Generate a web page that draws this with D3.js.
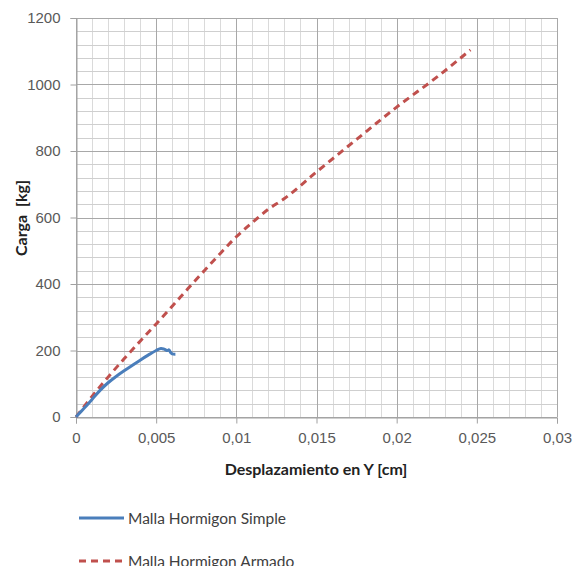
<!DOCTYPE html>
<html>
<head>
<meta charset="utf-8">
<script src="https://cdn.jsdelivr.net/npm/d3@7"></script>
<style>
  body { margin: 0; background: #fff; }
  svg { display: block; font-family: Lato, "Open Sans", sans-serif; }
</style>
</head>
<body>
<svg id="chart" width="579" height="566"></svg>
<script>
// data
var simpleX = [0, 0.0005, 0.001, 0.0015, 0.002, 0.0025, 0.003, 0.0035, 0.004, 0.0045, 0.005, 0.0053, 0.0055, 0.0057, 0.0058, 0.0059, 0.006, 0.0062];
var simpleY = [0, 26, 53, 80, 103, 122, 139, 155, 171, 186, 200, 206, 204, 200, 202, 194, 190, 189];
var armadoX = [0, 0.001, 0.002, 0.003, 0.004, 0.005, 0.006, 0.007, 0.008, 0.009, 0.010, 0.011, 0.012, 0.013, 0.015, 0.0175, 0.020, 0.0225, 0.0246];
var armadoY = [0, 62, 120, 175, 228, 280, 333, 387, 440, 492, 542, 585, 625, 657, 737, 835, 932, 1022, 1104];
var xTicks = [0, 0.005, 0.01, 0.015, 0.02, 0.025, 0.03];
var yTicks = [0, 200, 400, 600, 800, 1000, 1200];
var seriesNames = ["Malla Hormigon Simple", "Malla Hormigon Armado"];

var svg = d3.select("#chart");
var pL = 76, pR = 557, pT = 18, pB = 417;

var x = d3.scaleLinear().domain([0, 0.03]).range([pL, pR]);
var y = d3.scaleLinear().domain([0, 1200]).range([pB, pT]);

var g = svg.append("g");
var px = function(v){ return Math.round(v) + 0.5; };

// minor grid
g.selectAll(".vminor").data(d3.range(0, 31).map(function(i){ return i * 0.001; })).enter().append("line")
  .attr("x1", function(d){ return px(x(d)); })
  .attr("x2", function(d){ return px(x(d)); })
  .attr("y1", pT).attr("y2", pB)
  .attr("stroke", "#dadada").attr("stroke-width", 1);
g.selectAll(".hminor").data(d3.range(0, 1201, 40)).enter().append("line")
  .attr("y1", function(d){ return px(y(d)); })
  .attr("y2", function(d){ return px(y(d)); })
  .attr("x1", pL).attr("x2", pR)
  .attr("stroke", "#cfcfcf").attr("stroke-width", 1);

// major grid
g.selectAll(".vmajor").data(xTicks).enter().append("line")
  .attr("x1", function(d){ return px(x(d)); })
  .attr("x2", function(d){ return px(x(d)); })
  .attr("y1", pT).attr("y2", pB)
  .attr("stroke", "#a8a8a8").attr("stroke-width", 1);
g.selectAll(".hmajor").data(yTicks).enter().append("line")
  .attr("y1", function(d){ return px(y(d)); })
  .attr("y2", function(d){ return px(y(d)); })
  .attr("x1", pL).attr("x2", pR)
  .attr("stroke", "#a8a8a8").attr("stroke-width", 1);

// axes
var fmtX = function(d){ return d === 0 ? "0" : String(+d.toFixed(3)).replace(".", ","); };
var xAxis = d3.axisBottom(x).tickValues(xTicks).tickSize(6).tickPadding(9).tickFormat(fmtX);
var yAxis = d3.axisLeft(y).tickValues(yTicks).tickSize(6).tickPadding(10).tickFormat(d3.format("d"));

var gx = svg.append("g").attr("transform", "translate(0," + (Math.round(pB) + 0.5) + ")").call(xAxis);
var gy = svg.append("g").attr("transform", "translate(" + (pL + 0.5) + ",0)").call(yAxis);
[gx, gy].forEach(function(a){
  a.select(".domain").attr("stroke", "#a0a0a0");
  a.selectAll(".tick line").attr("stroke", "#a0a0a0");
  a.selectAll(".tick text").attr("fill", "#595959").style("font-size", "15px");
});

// axis titles
svg.append("text").attr("x", 316).attr("y", 475).attr("text-anchor", "middle")
  .style("font-size", "16px").style("font-weight", "bold").attr("fill", "#222")
  .text("Desplazamiento en Y [cm]");
svg.append("text").attr("transform", "translate(27,218) rotate(-90)").attr("text-anchor", "middle")
  .style("font-size", "16px").style("font-weight", "bold").style("white-space", "pre").attr("fill", "#222")
  .text("Carga  [kg]");

// series
var armado = d3.zip(armadoX, armadoY);
var simple = d3.zip(simpleX, simpleY);
var line = d3.line().x(function(d){ return x(d[0]); }).y(function(d){ return y(d[1]); });

svg.append("path").datum(armado).attr("d", line.curve(d3.curveMonotoneX))
  .attr("fill", "none").attr("stroke", "#c0504d").attr("stroke-width", 3)
  .attr("stroke-dasharray", "7,5");
svg.append("path").datum(simple).attr("d", line.curve(d3.curveCatmullRom))
  .attr("fill", "none").attr("stroke", "#4a7ebb").attr("stroke-width", 3)
  .attr("stroke-linejoin", "round");

// legend
var leg = svg.append("g");
var items = [{ name: seriesNames[0], color: "#4a7ebb", dash: null, y: 518 },
             { name: seriesNames[1], color: "#c0504d", dash: "7,5", y: 561 }];
items.forEach(function(it){
  leg.append("line").attr("x1", 79).attr("x2", 124).attr("y1", it.y).attr("y2", it.y)
    .attr("stroke", it.color).attr("stroke-width", 3).attr("stroke-dasharray", it.dash);
  leg.append("text").attr("x", 128).attr("y", it.y + 5.5).style("font-size", "15.5px")
    .attr("fill", "#404040").text(it.name);
});
</script>
</body>
</html>
